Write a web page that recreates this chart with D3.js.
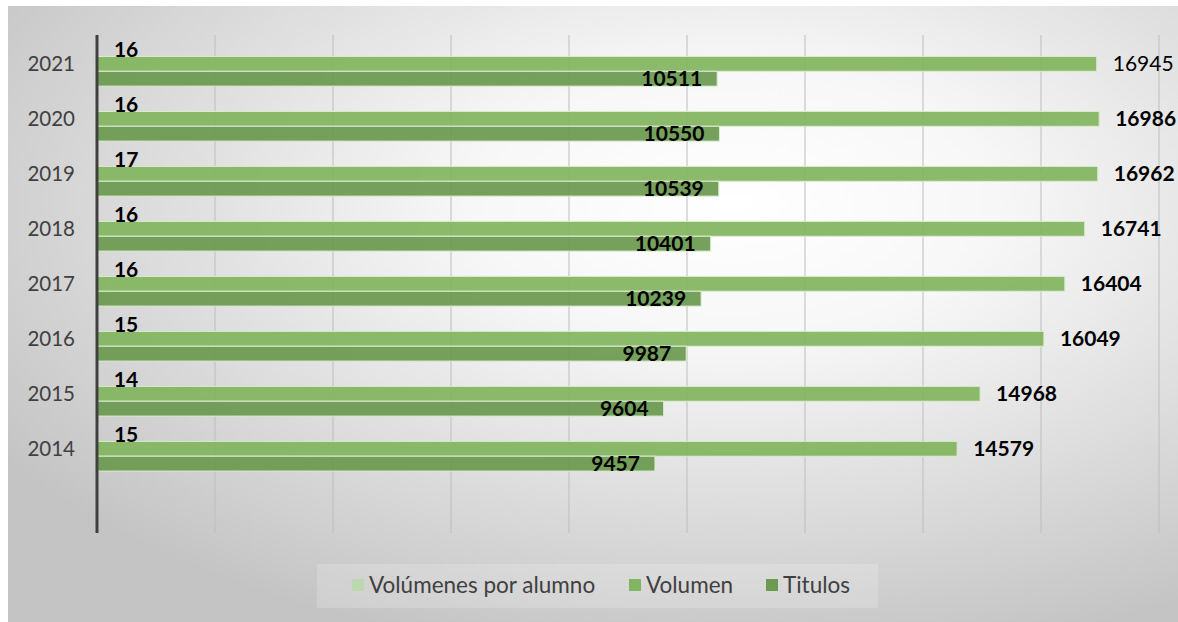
<!DOCTYPE html>
<html>
<head>
<meta charset="utf-8">
<script src="https://cdn.jsdelivr.net/npm/d3@7"></script>
<style>
  html, body { margin: 0; padding: 0; background: #fff; }
  svg { display: block; font-family: Lato, "Open Sans", sans-serif; }
</style>
</head>
<body>
<div class="chart"></div>
<script>
// datos
const years = ["2014", "2015", "2016", "2017", "2018", "2019", "2020", "2021"];
const volPorAlumno = [15, 14, 15, 16, 16, 17, 16, 16];
const volumen = [14579, 14968, 16049, 16404, 16741, 16962, 16986, 16945];
const titulos = [9457, 9604, 9987, 10239, 10401, 10539, 10550, 10511];
const seriesNames = ["Volúmenes por alumno", "Volumen", "Titulos"];
const xTicks = [0, 2000, 4000, 6000, 8000, 10000, 12000, 14000, 16000, 18000];

const width = 1178, height = 622;
const plotLeft = 97, plotRight = 1159, plotTop = 35, plotBottom = 533;

const color = d3.scaleOrdinal()
    .domain(seriesNames)
    .range(["#BCD8AE", "#82B560", "#6C9A50"]);

const svg = d3.select('.chart').append('svg')
    .attr('width', width)
    .attr('height', height);

// fondo con degradado radial
const defs = svg.append('defs');
const grad = defs.append('radialGradient')
    .attr('id', 'bg')
    .attr('cx', '62%').attr('cy', '32%').attr('r', '75%');
grad.append('stop').attr('offset', '0%').attr('stop-color', '#ffffff');
grad.append('stop').attr('offset', '30%').attr('stop-color', '#f7f7f7');
grad.append('stop').attr('offset', '100%').attr('stop-color', '#c4c4c4');

svg.append('rect')
    .attr('x', 8).attr('y', 6)
    .attr('width', width - 8).attr('height', height - 6)
    .attr('fill', 'url(#bg)');

const x = d3.scaleLinear()
    .domain([0, 18000])
    .range([plotLeft, plotRight]);

// una banda vacía al final, como en el original
const yearsDesc = years.slice().reverse();
const step = (plotBottom - plotTop) / (years.length + 1);
const y = d3.scaleBand()
    .domain(yearsDesc)
    .range([plotTop, plotBottom - step])
    .paddingInner(0.19)
    .paddingOuter(0.12);

const ySub = d3.scaleBand()
    .domain(seriesNames)
    .range([0, y.bandwidth()]);

// líneas de cuadrícula
svg.append('g')
    .selectAll('line')
    .data(xTicks.slice(1))
    .enter()
    .append('line')
    .attr('x1', d => x(d)).attr('x2', d => x(d))
    .attr('y1', plotTop).attr('y2', plotBottom)
    .attr('stroke', '#bdbdbd')
    .attr('stroke-width', 1);

const rows = years.map((yr, i) => ({
    year: yr,
    values: [volPorAlumno[i], volumen[i], titulos[i]]
}));

const groups = svg.append('g')
    .selectAll('g')
    .data(rows)
    .enter()
    .append('g')
    .attr('transform', d => `translate(0, ${y(d.year)})`);

groups.selectAll('rect')
    .data(d => d.values.map((v, j) => ({ key: seriesNames[j], value: v, year: d.year })))
    .enter()
    .append('rect')
    .attr('x', x(0))
    .attr('y', d => ySub(d.key))
    .attr('width', d => x(d.value) - x(0))
    .attr('height', ySub.bandwidth())
    .attr('fill', d => color(d.key))
    .attr('fill-opacity', 0.93)
    .attr('stroke', '#dcecd2')
    .attr('stroke-width', 1);

// etiquetas de datos
groups.selectAll('text')
    .data(d => d.values.map((v, j) => ({ key: seriesNames[j], value: v, year: d.year })))
    .enter()
    .append('text')
    .attr('x', d => d.key === 'Titulos' ? x(d.value) - 15 : x(d.value) + 16)
    .attr('y', d => ySub(d.key) + ySub.bandwidth() / 2)
    .attr('dy', '0.36em')
    .attr('text-anchor', d => d.key === 'Titulos' ? 'end' : 'start')
    .attr('font-size', 21)
    .attr('font-weight', d => (d.year === '2021' && d.key === 'Volumen') ? 'normal' : 'bold')
    .attr('fill', '#000')
    .text(d => d.value);

// etiquetas del eje Y
svg.append('g')
    .selectAll('text')
    .data(yearsDesc)
    .enter()
    .append('text')
    .attr('x', 75)
    .attr('y', d => y(d) + y.bandwidth() / 2)
    .attr('dy', '0.36em')
    .attr('text-anchor', 'end')
    .attr('font-size', 20.5)
    .attr('fill', '#404040')
    .text(d => d);

// eje vertical
svg.append('line')
    .attr('x1', plotLeft).attr('x2', plotLeft)
    .attr('y1', plotTop).attr('y2', plotBottom)
    .attr('stroke', '#404040')
    .attr('stroke-width', 3);

// leyenda
svg.append('rect')
    .attr('x', 317).attr('y', 564)
    .attr('width', 561).attr('height', 44)
    .attr('fill', '#ffffff')
    .attr('fill-opacity', 0.18);

const legendX = [352, 629, 766];
const legend = svg.append('g')
    .selectAll('g')
    .data(seriesNames)
    .enter()
    .append('g')
    .attr('transform', (d, i) => `translate(${legendX[i]}, 585)`);

legend.append('rect')
    .attr('x', 0).attr('y', -6)
    .attr('width', 12).attr('height', 12)
    .attr('fill', d => color(d));

legend.append('text')
    .attr('x', 17)
    .attr('y', 0)
    .attr('dy', '0.36em')
    .attr('font-size', 22.5)
    .attr('fill', '#404040')
    .text(d => d);
</script>
</body>
</html>
